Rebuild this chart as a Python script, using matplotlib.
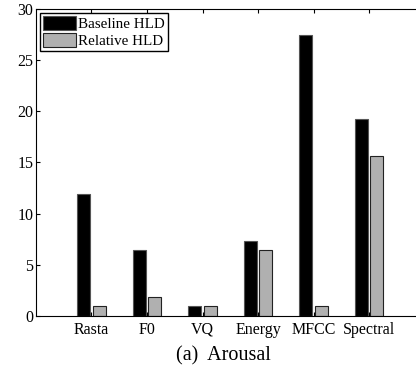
import matplotlib.pyplot as plt
import numpy as np

categories = ["Rasta", "F0", "VQ", "Energy", "MFCC", "Spectral"]
baseline_hld = [11.9, 6.4, 0.95, 7.3, 27.4, 19.2]
relative_hld = [0.95, 1.85, 0.95, 6.4, 0.95, 15.6]

plt.rcParams["font.family"] = ["Liberation Serif", "DejaVu Serif"]

fig = plt.figure(figsize=(4.16, 3.70), dpi=100)
ax = fig.add_axes([0.0865, 0.146, 0.934, 0.83])

x = np.arange(1, len(categories) + 1)
w = 0.23
ax.bar(x - 0.14, baseline_hld, w, color="black", edgecolor="#555555", linewidth=0.8, label="Baseline HLD")
ax.bar(x + 0.14, relative_hld, w, color="#b0b0b0", edgecolor="#222222", linewidth=0.8, label="Relative HLD")

ax.set_xlim(0, 7)
ax.set_ylim(0, 30)
ax.set_xticks(x)
ax.set_xticklabels(categories, fontsize=11.5)
ax.set_yticks(np.arange(0, 31, 5))
ax.tick_params(axis="y", labelsize=11.5, direction="in", length=3, pad=2)
ax.tick_params(axis="x", direction="in", length=3, top=True, pad=4)
ax.spines["right"].set_visible(False)

ax.legend(loc="upper left", bbox_to_anchor=(0.0, 1.0), fontsize=10.8, frameon=True,
          fancybox=False, edgecolor="black", framealpha=1,
          handlelength=2.2, handleheight=1.05, handletextpad=0.1,
          borderpad=0.2, labelspacing=0.12, borderaxespad=0.3)

fig.text(0.536, 0.038, "(a)  Arousal", ha="center", va="center", fontsize=14.5)

fig.savefig("out.png", dpi=100)
